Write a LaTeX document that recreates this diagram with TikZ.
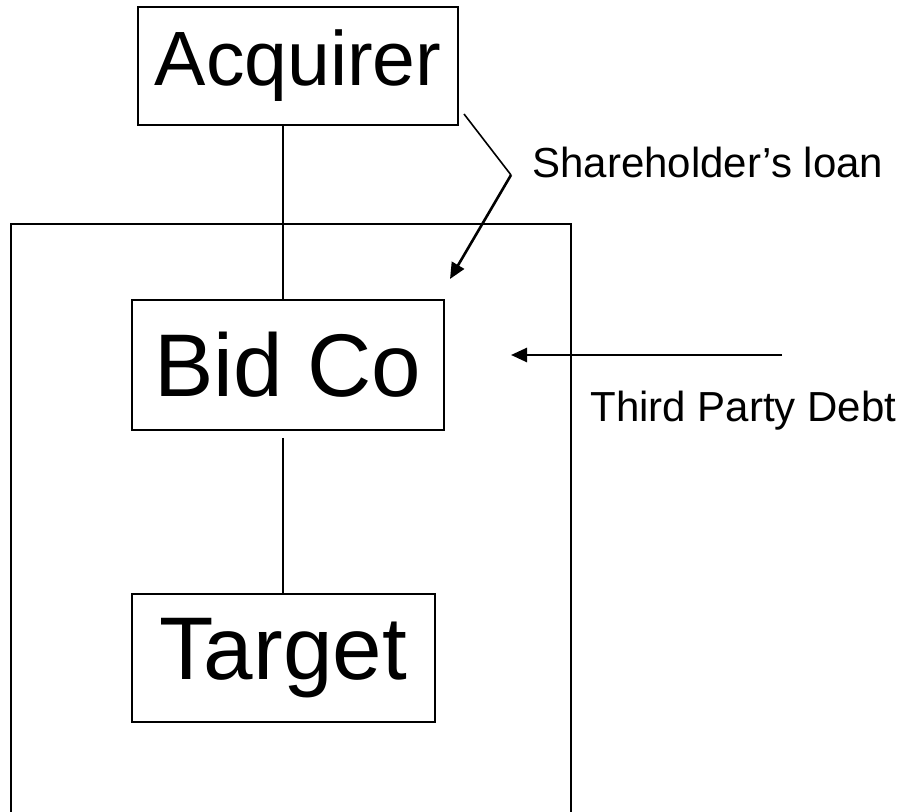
\documentclass[tikz,border=0pt]{standalone}
\usepackage{fontspec}
\setmainfont{Liberation Sans}
\usetikzlibrary{arrows.meta}
\tikzset{
  entity/.style={draw,line width=1pt,inner sep=0pt,font=\fontsize{44.5}{50}\selectfont},
  link/.style={line width=1pt},
  loanarrow/.style={line width=1.3pt,-{Triangle[length=8pt,width=7pt]}},
}
\begin{document}
\begin{tikzpicture}[x=0.5pt,y=-0.5pt,font=\fontsize{21}{25}\selectfont]
\useasboundingbox (0,0) rectangle (905,812);
% group boundary, runs off the bottom edge
\draw[link] (11,812) -- (11,224) -- (571,224) -- (571,812);
\node[entity,font=\fontsize{38.5}{44}\selectfont,minimum width=160pt,minimum height=59pt] (acquirer) at (298,66) {Acquirer};
\node[entity,minimum width=156pt,minimum height=65pt] (bidco) at (288,365) {Bid Co};
\node[entity,minimum width=151.5pt,minimum height=64pt] (target) at (283,658) {Target};
\draw[link] (acquirer.south -| target.north) -- (bidco.north -| target.north);
\draw[link,shorten <=3.5pt] (bidco.south -| target.north) -- (target.north);
% shareholder's loan: bent pointer into the group
\coordinate (loanstart) at (464,114);
\coordinate (loanbend) at (511,175);
\coordinate (loantip) at (450,279);
\draw[line width=0.8pt] (loanstart) -- (loanbend);
\draw[loanarrow] (loanbend) -- (loantip);
\node[anchor=base west,inner sep=0pt] (loan) at (532,178) {Shareholder’s loan};
% third party debt
\coordinate (debtstart) at (782,355);
\coordinate (debttip) at (511,355);
\draw[loanarrow] (debtstart) -- (debttip);
\node[anchor=base west,inner sep=0pt] (debt) at (590,422) {Third Party Debt};
\end{tikzpicture}
\end{document}
